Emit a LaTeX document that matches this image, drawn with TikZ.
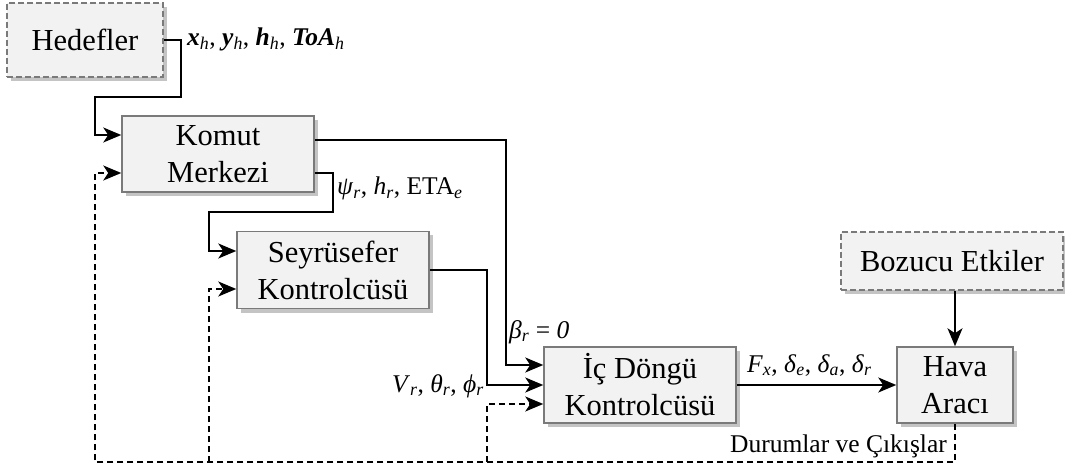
\documentclass[tikz,border=0pt]{standalone}
\usepackage{fontspec}
\setmainfont{Liberation Serif}
\usetikzlibrary{arrows.meta,shadows,positioning}
\definecolor{boxfill}{HTML}{F2F2F2}
\definecolor{boxline}{HTML}{7A7A7A}
\definecolor{shadowc}{HTML}{C4C4C4}
\newcommand{\isub}[2]{\textit{#1}\textsubscript{\textit{#2}}}
\newcommand{\bsub}[2]{\textbf{\textit{#1}}\textsubscript{\textit{#2}}}
\tikzset{
  blockbox/.style={draw=boxline, line width=1.5pt, fill=boxfill, align=center,
    font=\fontsize{30.5}{37}\selectfont, inner sep=0pt,
    drop shadow={shadow xshift=4pt, shadow yshift=-4pt, fill=shadowc, opacity=1}},
  extbox/.style={blockbox, dashed, dash pattern=on 6pt off 3pt},
  lbl/.style={font=\fontsize{25.5}{30}\selectfont, inner sep=0pt},
  arr/.style={line width=1.8pt, -{Stealth[length=18pt,width=15pt,inset=5pt]}},
  fb/.style={arr, dash pattern=on 6pt off 4pt},
  ln/.style={line width=1.8pt}
}
\begin{document}
\begin{tikzpicture}[x=1pt,y=-1pt]
\useasboundingbox (0,0) rectangle (1065,470);
% blocks
\node[extbox, minimum width=156pt, minimum height=74pt] (hed) at (85,40) {Hedefler};
\node[blockbox, minimum width=192pt, minimum height=76pt] (kom) at (218,154) {Komut\\Merkezi};
\node[blockbox, minimum width=192pt, minimum height=77pt] (sey) at (333,270) {Seyrüsefer\\Kontrolcüsü};
\node[blockbox, minimum width=192pt, minimum height=76pt] (ic) at (640,385) {İç Döngü\\Kontrolcüsü};
\node[blockbox, minimum width=116pt, minimum height=76pt] (hava) at (955,385) {Hava\\Aracı};
\node[extbox, minimum width=222pt, minimum height=58pt] (boz) at (952,261) {Bozucu Etkiler};
% forward connectors
\draw[arr] (hed.east) -| (181,97) -| (95,135) -- ([yshift=19pt]kom.west);
\draw[arr] ([yshift=14pt]kom.east) -| (506,365) -- ([yshift=20pt]ic.west);
\draw[arr] ([yshift=-19pt]kom.east) -| (333,212) -| (209,251) -- ([yshift=19pt]sey.west);
\draw[arr] (sey.east) -| (487,385) -- (ic.west);
\draw[arr] (ic.east) -- (hava.west);
\draw[arr] (boz.south -| hava.north) -- (hava.north);
% feedback
\coordinate (fbr) at (955,462);
\draw[fb] (hava.south) -- (fbr) -| (95,173) -- ([yshift=-19pt]kom.west);
\draw[fb] (209,462) -- (209,289) -- ([yshift=-19pt]sey.west);
\draw[fb] (487,462) -- (487,404) -- ([yshift=-19pt]ic.west);
% labels
\node[lbl, anchor=base west] (l1) at (187,46) {\bsub{x}{h}, \bsub{y}{h}, \bsub{h}{h}, \bsub{ToA}{h}};
\node[lbl, anchor=base west] (l2) at (337,195) {\isub{ψ}{r}, \isub{h}{r}, ETA\textsubscript{\textit{e}}};
\node[lbl, anchor=base west] (l3) at (509,338) {\isub{β}{r} = \textit{0}};
\node[lbl, anchor=base east] (l4) at (484,392) {\isub{V}{r}, \isub{θ}{r}, \isub{ϕ}{r}};
\node[lbl, anchor=base west] (l5) at (747,372) {\isub{F}{x}, \isub{δ}{e}, \isub{δ}{a}, \isub{δ}{r}};
\node[lbl, anchor=base east] (l6) at (947,452) {Durumlar ve Çıkışlar};
\end{tikzpicture}
\end{document}
